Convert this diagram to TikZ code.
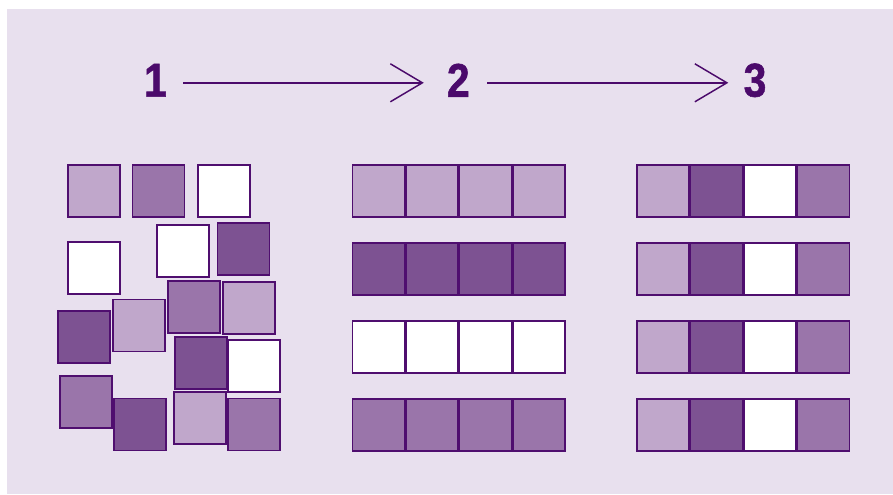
\documentclass[tikz,border=0pt]{standalone}
\usepackage{fontspec}
\setmainfont{Liberation Sans}
\newfontfamily\numfont[FakeBold=1.2]{Liberation Sans Bold}
\usetikzlibrary{arrows.meta,calc}
\definecolor{bgc}{HTML}{E8E0EE}
\definecolor{lgt}{HTML}{C0A7CB}
\definecolor{med}{HTML}{9A75AA}
\definecolor{drk}{HTML}{7D5292}
\definecolor{edge}{HTML}{4F0E6F}
\definecolor{txt}{HTML}{4B0A6B}
\tikzset{
  cell/.style={draw=edge,line width=1.45pt,minimum size=39pt,inner sep=0pt,outer sep=0pt},
  sqlight/.style={cell,fill=lgt},
  sqmed/.style={cell,fill=med},
  sqdark/.style={cell,fill=drk},
  sqwhite/.style={cell,fill=white},
  num/.style={text=txt,inner sep=0pt,font=\numfont\fontsize{35.6}{36}\selectfont},
  arr/.style={draw=txt,line width=1.1pt,-{Straight Barb[length=24pt,width=28.5pt,line width=1.1pt]}}
}
\begin{document}
\begin{tikzpicture}[x=0.75pt,y=-0.75pt]
\useasboundingbox (0,0) rectangle (893,495);
\fill[bgc] (7,9) rectangle (893,494);
% numbers
\node[num] (n1) at (155.5,80.3) {\scalebox{0.86}[1]{1}};
\node[num] (n2) at (458.3,80.3) {\scalebox{0.86}[1]{2}};
\node[num] (n3) at (755,80.3) {\scalebox{0.86}[1]{3}};
\draw[arr] ($(n1.center)+(27.5,2.5)$) -- ($(n2.center)+(-34.5,2.5)$);
\draw[arr] ($(n2.center)+(29,2.5)$) -- ($(n3.center)+(-26.7,2.5)$);
% left cluster
\node[sqlight] (s1) at (94.2,190.7) {};
\node[sqmed] (s2) at (158.5,190.7) {};
\node[sqwhite] (s3) at (223.8,190.7) {};
\node[sqwhite] (s4) at (94.2,268) {};
\node[sqwhite] (s5) at (183.2,251) {};
\node[sqdark] (s6) at (243.5,249.2) {};
\node[sqdark] (s7) at (83.8,336.8) {};
\node[sqlight] (s8) at (138.7,325.5) {};
\node[sqmed] (s9) at (194,307) {};
\node[sqlight] (s10) at (249.2,307.7) {};
\node[sqdark] (s11) at (201,362.7) {};
\node[sqwhite] (s12) at (254.3,366) {};
\node[sqmed] (s13) at (86.2,402) {};
\node[sqdark] (s14) at (139.8,424.5) {};
\node[sqlight] (s15) at (200.2,418.3) {};
\node[sqmed] (s16) at (254.2,424.5) {};
% middle rows
\foreach \st/\y/\r in {sqlight/190.7/a,sqdark/268.7/b,sqwhite/346.7/c,sqmed/424.7/d}{
  \foreach \x/\c in {378.5/1,432/2,485.5/3,539/4}{
    \node[\st] (m\r\c) at (\x,\y) {};
  }
}
% right rows
\foreach \y/\r in {190.7/a,268.7/b,346.7/c,424.7/d}{
  \node[sqlight] (r\r1) at (663,\y) {};
  \node[sqdark] (r\r2) at (716.5,\y) {};
  \node[sqwhite] (r\r3) at (770,\y) {};
  \node[sqmed] (r\r4) at (823.5,\y) {};
}
\end{tikzpicture}
\end{document}
